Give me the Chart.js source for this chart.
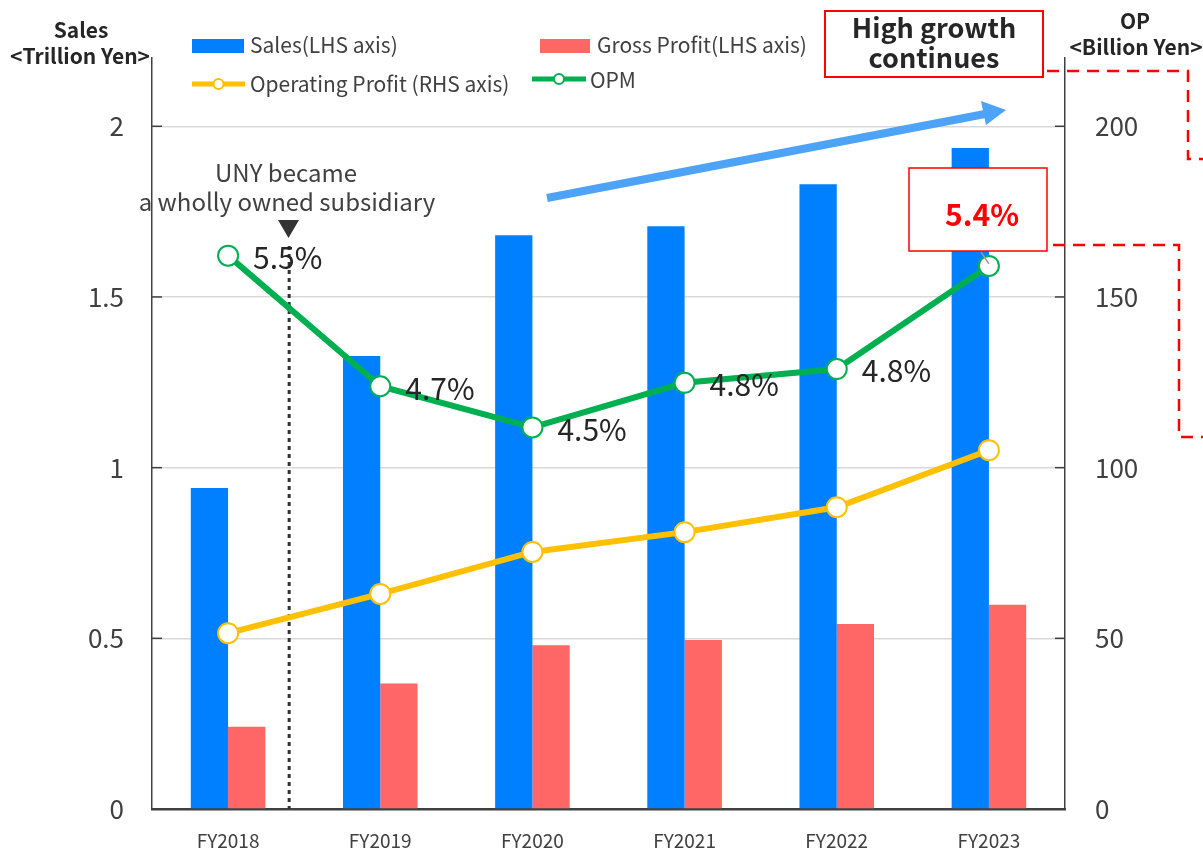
<!DOCTYPE html>
<html>
<head>
<meta charset="utf-8">
<script src="https://cdn.jsdelivr.net/npm/chart.js@4.4.1/dist/chart.umd.min.js"></script>
<style>
  body { margin: 0; background: #fff; }
  #wrap { width: 1203px; height: 848px; }
</style>
</head>
<body>
<div id="wrap"><canvas id="myChart" width="1203" height="848"></canvas></div>
<script>
var categories = ["FY2018", "FY2019", "FY2020", "FY2021", "FY2022", "FY2023"];
var sales = [0.94, 1.327, 1.681, 1.707, 1.83, 1.936];          // trillion yen
var grossProfit = [0.241, 0.368, 0.48, 0.495, 0.542, 0.598];   // trillion yen
var operatingProfit = [51.5, 63.0, 75.3, 81.1, 88.4, 105.1];   // billion yen
var opm = [5.5, 4.74, 4.5, 4.76, 4.84, 5.44];                  // %
var salesTicks = [0, 0.5, 1, 1.5, 2];
var opTicks = [0, 50, 100, 150, 200];

var FONT = "'Noto Sans CJK JP', 'Noto Sans', sans-serif";
var TXT = "#404040";

// legend, titles, call-outs drawn straight on the canvas
var extras = {
  id: "extras",
  beforeDatasetsDraw: function (chart) {
    var c = chart.ctx;
    var area = chart.chartArea;
    var x = chart.scales.x;
    // UNY dotted marker between FY2018 and FY2019
    var mx = (x.getPixelForValue(0) + x.getPixelForValue(1)) / 2 - 15;
    c.save();
    c.strokeStyle = "#333";
    c.lineWidth = 3;
    c.setLineDash([4, 4]);
    c.beginPath();
    c.moveTo(mx, 246);
    c.lineTo(mx, area.bottom);
    c.stroke();
    c.restore();
  },
  afterDatasetsDraw: function (chart) {
    var c = chart.ctx;
    var area = chart.chartArea;
    var yL = chart.scales.y;
    var yR = chart.scales.y1;
    var meta = chart.getDatasetMeta(3);

    c.save();
    // inside tick marks
    c.strokeStyle = TXT;
    c.lineWidth = 1.5;
    salesTicks.forEach(function (v) {
      var py = yL.getPixelForValue(v);
      c.beginPath(); c.moveTo(area.left, py); c.lineTo(area.left + 10, py); c.stroke();
    });
    opTicks.forEach(function (v) {
      var py = yR.getPixelForValue(v);
      c.beginPath(); c.moveTo(area.right - 10, py); c.lineTo(area.right, py); c.stroke();
    });

    // OPM labels
    c.fillStyle = "#262626";
    c.font = "30px " + FONT;
    c.textAlign = "left";
    c.textBaseline = "middle";
    for (var i = 0; i < opm.length - 1; i++) {
      var p = meta.data[i];
      c.fillText(opm[i].toFixed(1) + "%", p.x + 25, p.y + 2);
    }

    // last OPM in red box
    var last = meta.data[opm.length - 1];
    c.strokeStyle = "#999";
    c.lineWidth = 1.5;
    c.beginPath(); c.moveTo(last.x - 8, 252); c.lineTo(last.x, last.y - 2); c.stroke();
    c.fillStyle = "#fff";
    c.fillRect(909, 168, 138, 83);
    c.strokeStyle = "#ff0000";
    c.lineWidth = 1.5;
    c.strokeRect(909, 168, 138, 83);
    c.fillStyle = "#ff0000";
    c.font = "bold 30px " + FONT;
    c.textAlign = "center";
    c.fillText(opm[opm.length - 1].toFixed(1) + "%", 982, 215);

    // UNY note
    c.fillStyle = TXT;
    c.font = "24px " + FONT;
    c.fillText("UNY became", 286, 173);
    c.fillText("a wholly owned subsidiary", 287, 202);
    c.fillStyle = "#333";
    c.beginPath(); c.moveTo(278, 220); c.lineTo(299, 220); c.lineTo(288.5, 238); c.closePath(); c.fill();

    // growth arrow
    c.strokeStyle = "#4da3f7";
    c.fillStyle = "#4da3f7";
    c.lineWidth = 8;
    c.beginPath(); c.moveTo(547, 198); c.lineTo(985, 114); c.stroke();
    c.beginPath(); c.moveTo(1006, 110); c.lineTo(981, 101); c.lineTo(986, 125); c.closePath(); c.fill();

    // High growth box
    c.fillStyle = "#fff";
    c.fillRect(825, 11, 218, 66);
    c.strokeStyle = "#ff0000";
    c.lineWidth = 2;
    c.strokeRect(825, 11, 218, 66);
    c.fillStyle = "#262626";
    c.font = "bold 27px " + FONT;
    c.fillText("High growth", 934, 28);
    c.fillText("continues", 934, 58);

    // red dashed leaders
    c.strokeStyle = "#ff0000";
    c.lineWidth = 2.5;
    c.setLineDash([12, 8]);
    c.beginPath();
    c.moveTo(1047, 71); c.lineTo(1188, 71); c.lineTo(1188, 159); c.lineTo(1203, 159);
    c.stroke();
    c.beginPath();
    c.moveTo(1053, 245); c.lineTo(1179, 245); c.lineTo(1179, 437); c.lineTo(1203, 437);
    c.stroke();
    c.setLineDash([]);

    // axis titles
    c.fillStyle = "#262626";
    c.font = "bold 21px " + FONT;
    c.fillText("Sales", 81, 30);
    c.fillText("<Trillion Yen>", 80, 56);
    c.fillText("OP", 1135, 21);
    c.fillText("<Billion Yen>", 1136, 47);

    // legend
    c.font = "21px " + FONT;
    c.textAlign = "left";
    c.fillStyle = "#0080ff";
    c.fillRect(192, 39, 52, 14);
    c.fillStyle = "#ff6666";
    c.fillRect(540, 39, 50, 14);
    c.fillStyle = TXT;
    c.fillText("Sales(LHS axis)", 250, 45);
    c.fillText("Gross Profit(LHS axis)", 597, 45);
    c.fillText("Operating Profit (RHS axis)", 250, 84);
    c.fillText("OPM", 590, 80);
    [[192, 245, 84, "#ffc000"], [532, 586, 79, "#00b050"]].forEach(function (l) {
      c.strokeStyle = l[3];
      c.lineWidth = 5;
      c.beginPath(); c.moveTo(l[0], l[2]); c.lineTo(l[1], l[2]); c.stroke();
      c.fillStyle = "#fff";
      c.lineWidth = 2;
      c.beginPath(); c.arc((l[0] + l[1]) / 2, l[2], 5, 0, Math.PI * 2); c.fill(); c.stroke();
    });
    c.restore();
  }
};

function fitY(width) {
  return function (s) {
    s.width = width;
    s.paddingTop = 0;
    s.paddingBottom = 0;
  };
}

var ctx = document.getElementById("myChart");
var myChart = new Chart(ctx, {
  type: "bar",
  data: {
    labels: categories,
    datasets: [{
      label: "Sales(LHS axis)",
      data: sales,
      backgroundColor: "#0080ff",
      yAxisID: "y",
      order: 3,
      barPercentage: 1,
      categoryPercentage: 0.49
    }, {
      label: "Gross Profit(LHS axis)",
      data: grossProfit,
      backgroundColor: "#ff6666",
      yAxisID: "y",
      order: 3,
      barPercentage: 1,
      categoryPercentage: 0.49
    }, {
      type: "line",
      label: "Operating Profit (RHS axis)",
      data: operatingProfit,
      borderColor: "#ffc000",
      borderWidth: 6,
      pointRadius: 10,
      pointBorderWidth: 2,
      pointBackgroundColor: "#fff",
      pointBorderColor: "#ffc000",
      yAxisID: "y1",
      order: 2
    }, {
      type: "line",
      label: "OPM",
      data: opm,
      borderColor: "#00b050",
      borderWidth: 6,
      pointRadius: 10,
      pointBorderWidth: 2,
      pointBackgroundColor: "#fff",
      pointBorderColor: "#00b050",
      yAxisID: "y2",
      order: 1
    }]
  },
  options: {
    responsive: false,
    animation: false,
    layout: { padding: { top: 58, left: 0, right: 0, bottom: 0 } },
    plugins: {
      legend: { display: false },
      tooltip: { enabled: false }
    },
    scales: {
      x: {
        grid: { display: false, drawTicks: false },
        border: { display: true, color: TXT, width: 2.5 },
        ticks: { color: TXT, font: { family: FONT, size: 19 }, padding: 20 },
        afterFit: function (s) { s.height = 39; }
      },
      y: {
        position: "left",
        min: 0,
        max: 2.2,
        afterBuildTicks: function (s) { s.ticks = salesTicks.map(function (v) { return { value: v }; }); },
        grid: { color: "#d9d9d9", lineWidth: 1.5, drawTicks: false },
        border: { display: true, color: TXT, width: 1.5 },
        ticks: {
          color: TXT, font: { family: FONT, size: 26 }, padding: 28,
          callback: function (v) { return String(v); }
        },
        afterFit: fitY(152)
      },
      y1: {
        position: "right",
        min: 0,
        max: 220,
        afterBuildTicks: function (s) { s.ticks = opTicks.map(function (v) { return { value: v }; }); },
        grid: { display: false, drawTicks: false },
        border: { display: true, color: TXT, width: 1.5 },
        ticks: { color: TXT, font: { family: FONT, size: 26 }, padding: 30 },
        afterFit: fitY(138)
      },
      y2: {
        display: false,
        min: 2.28,
        max: 6.65
      }
    }
  },
  plugins: [extras]
});
</script>
</body>
</html>
